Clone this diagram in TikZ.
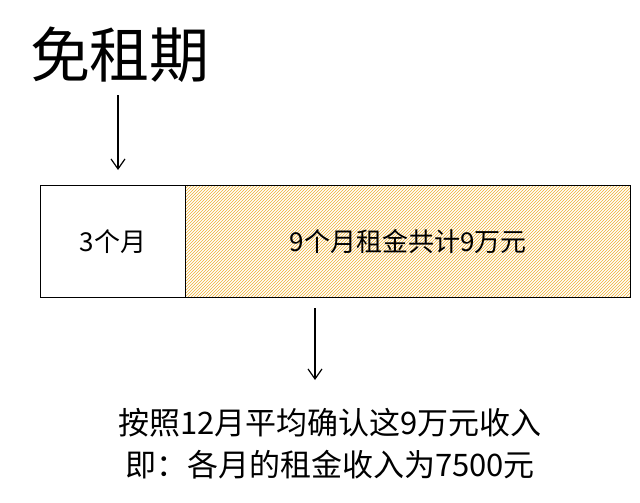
\documentclass[tikz,border=0pt]{standalone}
\usepackage{fontspec}
\setmainfont{Noto Sans CJK SC}
\usetikzlibrary{patterns,arrows.meta}
\definecolor{hatch}{HTML}{F0B030}
\definecolor{pale}{HTML}{FFF6DD}
\begin{document}
\begin{tikzpicture}[x=1pt,y=-1pt,
  lbl/.style={font=\fontsize{26}{30}\selectfont,inner sep=0pt},
  lbl2/.style={font=\fontsize{31}{34}\selectfont,inner sep=0pt},
  arr/.style={draw=black,line width=1.2pt,-{Straight Barb[length=10pt,width=14pt]}}]
\useasboundingbox[fill=white] (0,0) rectangle (640,503);
\node[font=\fontsize{60}{64}\selectfont,inner sep=0pt] (title) at (120,55) {免租期};
\node[draw,line width=1pt,minimum width=145pt,minimum height=112pt,anchor=north west,inner sep=0pt] (free) at (40,185) {};
\node[draw,line width=1pt,fill=pale,pattern=north east lines,pattern color=hatch,minimum width=445pt,minimum height=112pt,anchor=north west,inner sep=0pt] (paid) at (185,185) {};
\node[lbl] (t1) at (free.center) {3个月};
\node[lbl] (t2) at (paid.center) {9个月租金共计9万元};
\coordinate (a1s) at (118,95);
\coordinate (a1e) at (118,170);
\draw[arr] (a1s) -- (a1e);
\coordinate (a2s) at (315,308);
\coordinate (a2e) at (315,380);
\draw[arr] (a2s) -- (a2e);
\node[lbl2] (b1) at (330,423) {按照12月平均确认这9万元收入};
\node[lbl2] (b2) at (330,465) {即：各月的租金收入为7500元};
\end{tikzpicture}
\end{document}
